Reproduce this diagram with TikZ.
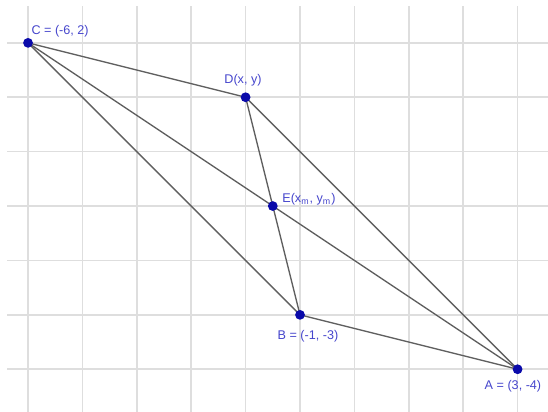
\documentclass[tikz,border=0pt]{standalone}
\usepackage{fontspec}
\setmainfont{Liberation Sans}
\definecolor{gridc}{RGB}{222,222,222}
\definecolor{segc}{RGB}{95,95,95}
\definecolor{ptc}{RGB}{10,10,170}
\definecolor{labc}{RGB}{70,70,205}
\begin{document}
\begin{tikzpicture}[x=1cm,y=1cm,
  pt/.style={circle,fill=ptc,inner sep=0pt,minimum size=0.18cm},
  lab/.style={text=labc,font=\fontsize{6.6}{7}\selectfont,inner sep=0pt},
  seg/.style={draw=segc,line width=0.7pt},
  gridline/.style={draw=gridc,line width=0.8pt}]
\useasboundingbox (-6.515,-4.781) rectangle (3.559,2.788);
\fill[white] (-6.515,-4.781) rectangle (3.559,2.788);
% grid
\foreach \x in {-6,...,3}{\draw[gridline] (\x,-4.781) -- (\x,2.678);}
\foreach \y in {-4,...,2}{\draw[gridline] (-6.386,\y) -- (3.559,\y);}
% points
\coordinate (Cc) at (-6,2);
\coordinate (Dc) at (-2,1);
\coordinate (Bc) at (-1,-3);
\coordinate (Ac) at (3,-4);
\coordinate (Ec) at (-1.5,-1);
% segments
\draw[seg] (Cc) -- (Dc);
\draw[seg] (Dc) -- (Ac);
\draw[seg] (Cc) -- (Bc);
\draw[seg] (Bc) -- (Ac);
\draw[seg] (Cc) -- (Ac);
\draw[seg] (Dc) -- (Bc);
\node[pt] (C) at (Cc) {};
\node[pt] (D) at (Dc) {};
\node[pt] (B) at (Bc) {};
\node[pt] (A) at (Ac) {};
\node[pt] (E) at (Ec) {};
% labels
\node[lab] (Cl) at (-5.41,2.217) {C = (-6, 2)};
\node[lab] (Dl) at (-2.048,1.315) {D(x, y)};
\node[lab,anchor=west] (El) at (-1.331,-0.877) {E(x\textsubscript{m}, y\textsubscript{m})};
\node[lab] (Bl) at (-0.853,-3.40) {B = (-1, -3)};
\node[lab] (Al) at (2.915,-4.32) {A = (3, -4)};
\end{tikzpicture}
\end{document}
